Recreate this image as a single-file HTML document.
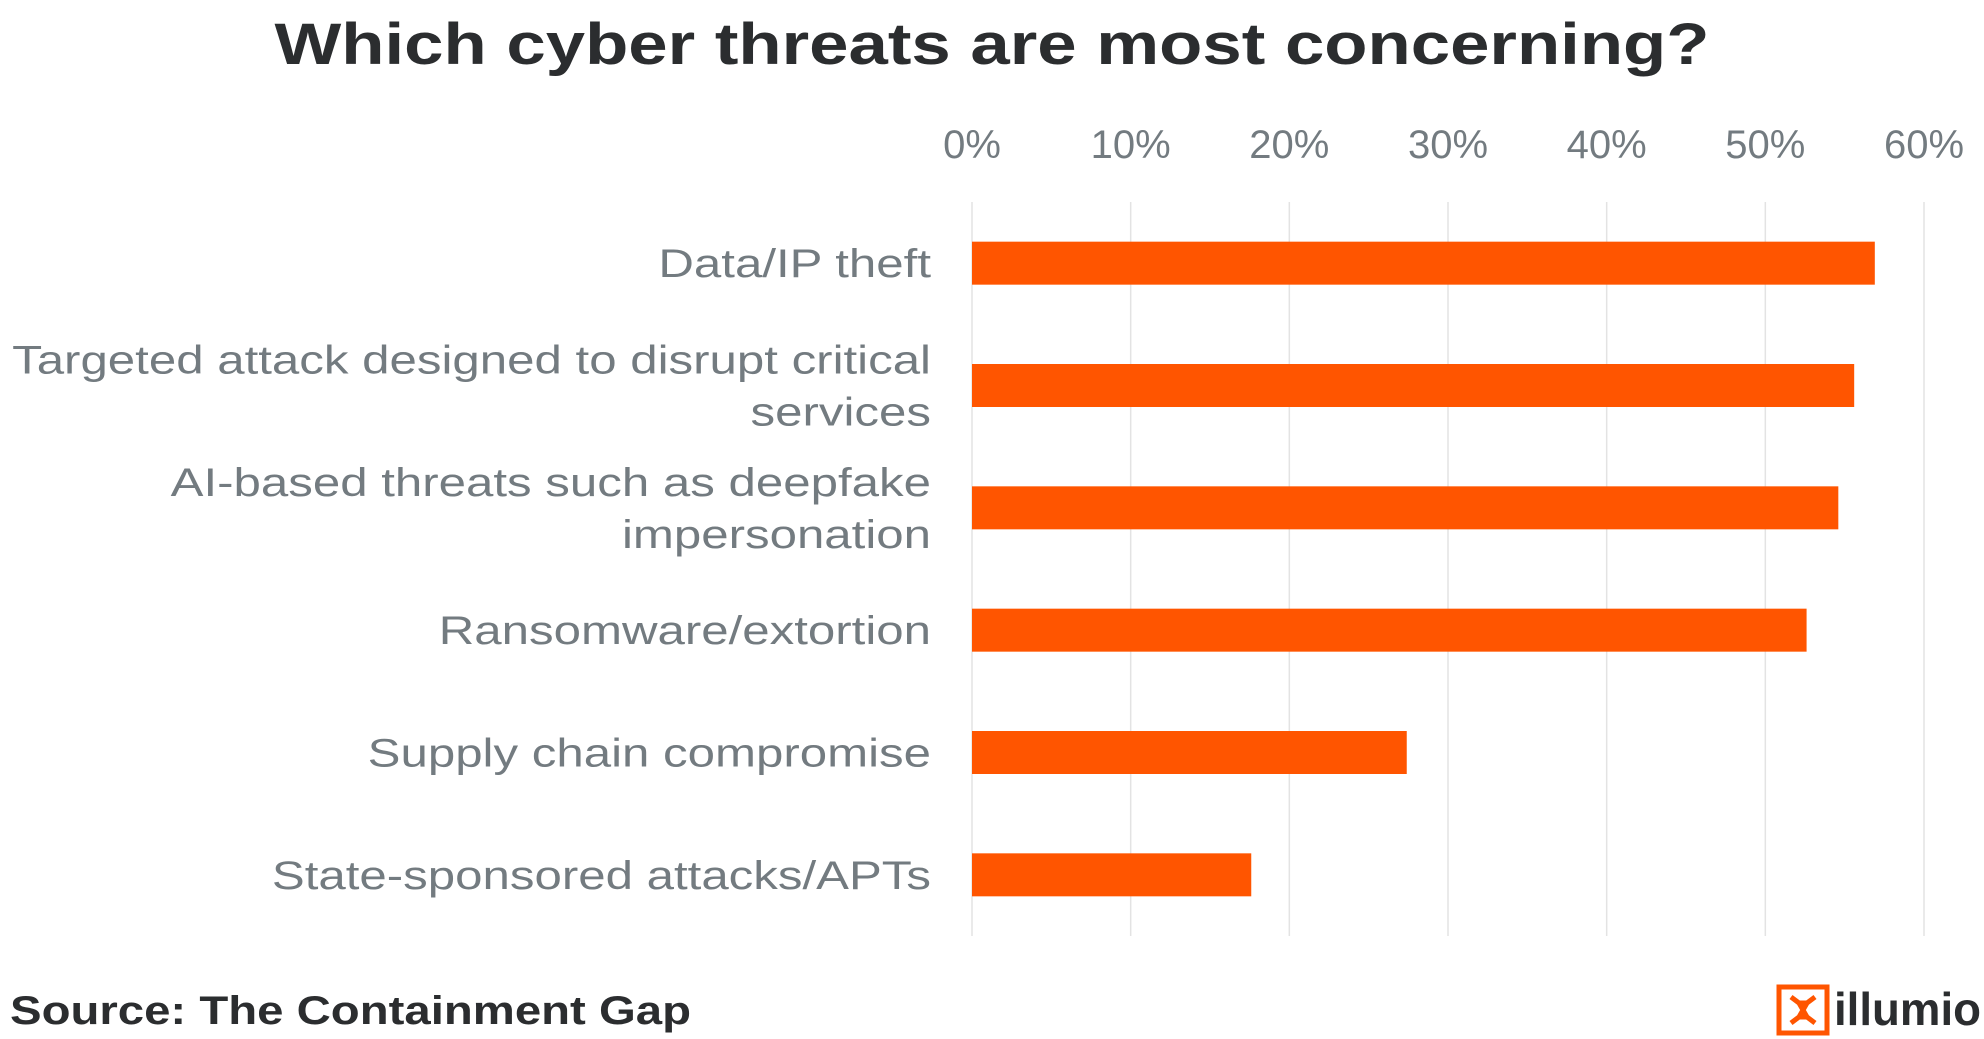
<!DOCTYPE html>
<html><head><meta charset="utf-8"><style>
html,body{margin:0;padding:0;background:#fff;}
svg{display:block;font-family:"Liberation Sans",sans-serif;}
</style></head><body>
<svg id="chart" width="1984" height="1039" viewBox="0 0 1984 1039">
<text x="992" y="64" text-anchor="middle" font-size="58" font-weight="bold" fill="#2b2d2f" textLength="1435" lengthAdjust="spacingAndGlyphs">Which cyber threats are most concerning?</text>
<g id="grid"></g>
<g id="ticks"></g>
<g id="bars"></g>
<g id="labels"></g>
<text x="10" y="1024" font-size="40" font-weight="bold" fill="#2b2d2f" textLength="681" lengthAdjust="spacingAndGlyphs">Source:  The Containment Gap</text>
<g>
<rect x="1779" y="987" width="48" height="46" fill="none" stroke="#ff5500" stroke-width="5"/>
<path d="M1791 997 L1799 1003 L1807 1003 L1815 997 M1791 1023 L1799 1017 L1807 1017 L1815 1023 M1799 1003 L1803 1010 L1807 1003 M1799 1017 L1803 1010 L1807 1017" stroke="#ff5500" stroke-width="5" fill="none"/>
<text x="1834" y="1025" font-size="46" font-weight="bold" fill="#2b2d2f" textLength="147" lengthAdjust="spacingAndGlyphs">illumio</text>
</g>
</svg>
<script>
const categories = [["Data/IP theft"],["Targeted attack designed to disrupt critical","services"],["AI-based threats such as deepfake","impersonation"],["Ransomware/extortion"],["Supply chain compromise"],["State-sponsored attacks/APTs"]];
const values = [56.9, 55.6, 54.6, 52.6, 27.4, 17.6];
const tickValues = [0,10,20,30,40,50,60];
const tickLabels = ["0%","10%","20%","30%","40%","50%","60%"];
const NS="http://www.w3.org/2000/svg";
const x0=972, x1=1924, xmax=60;
const xs=v=>x0+(x1-x0)*v/xmax;
const top0=202, bottom0=936, band=(bottom0-top0)/categories.length, barH=43;
const yc=i=>top0+band*(i+0.5);
function mk(tag,attrs,parent){const e=document.createElementNS(NS,tag);for(const k in attrs)e.setAttribute(k,attrs[k]);document.getElementById(parent).appendChild(e);return e;}
tickValues.forEach((t,i)=>{
 const g=mk('line',{x1:xs(t),x2:xs(t),y1:top0,y2:bottom0,stroke:'#e3e3e3','stroke-width':1.5},'grid');
 
 
 const tx=mk('text',{x:xs(t),y:158,'text-anchor':'middle','font-size':40,fill:'#737b80'},'ticks');
 tx.textContent=tickLabels[i];
 
 
});
values.forEach((v,i)=>{
 const r=mk('rect',{x:x0,y:yc(i)-barH/2,width:xs(v)-x0,height:barH,fill:'#ff5500'},'bars');
 
 
 const lines=categories[i];
 lines.forEach((l,j)=>{
  const tx=mk('text',{x:931,y:yc(i)+14+(j-(lines.length-1)/2)*52,'text-anchor':'end','font-size':40,fill:'#737b80'},'labels');
  
  
  tx.textContent=l;
  const w=tx.getComputedTextLength();
  tx.setAttribute('textLength',w*1.23);
  tx.setAttribute('lengthAdjust','spacingAndGlyphs');
 });
});
</script>
</body></html>
